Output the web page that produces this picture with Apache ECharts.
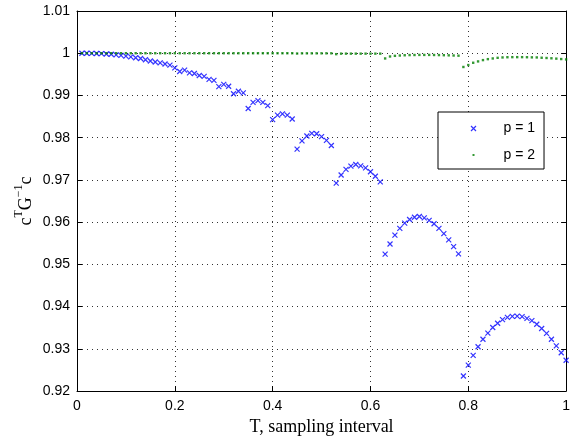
<!DOCTYPE html>
<html>
<head>
<meta charset="utf-8">
<script src="https://cdn.jsdelivr.net/npm/echarts@6/dist/echarts.min.js"></script>
<style>html,body{margin:0;padding:0;background:#fff}#c{width:573px;height:441px}</style>
</head>
<body>
<div id="c"></div>
<script>
var T = [0.01,0.02,0.03,0.04,0.05,0.06,0.07,0.08,0.09,0.10,
0.11,0.12,0.13,0.14,0.15,0.16,0.17,0.18,0.19,0.20,
0.21,0.22,0.23,0.24,0.25,0.26,0.27,0.28,0.29,0.30,
0.31,0.32,0.33,0.34,0.35,0.36,0.37,0.38,0.39,0.40,
0.41,0.42,0.43,0.44,0.45,0.46,0.47,0.48,0.49,0.50,
0.51,0.52,0.53,0.54,0.55,0.56,0.57,0.58,0.59,0.60,
0.61,0.62,0.63,0.64,0.65,0.66,0.67,0.68,0.69,0.70,
0.71,0.72,0.73,0.74,0.75,0.76,0.77,0.78,0.79,0.80,
0.81,0.82,0.83,0.84,0.85,0.86,0.87,0.88,0.89,0.90,
0.91,0.92,0.93,0.94,0.95,0.96,0.97,0.98,0.99,1.00];

var p1 = [1.0000,0.99999,0.99997,0.99994,0.99990,0.99982,0.99975,0.99962,0.99948,0.99932,
0.99914,0.99892,0.99876,0.99845,0.99815,0.99792,0.99772,0.99745,0.99718,0.99652,
0.99566,0.99600,0.99535,0.99520,0.99473,0.99450,0.99380,0.99356,0.99210,0.99263,
0.99217,0.99040,0.99100,0.99062,0.98690,0.98837,0.98877,0.98837,0.98760,0.98426,
0.98535,0.98565,0.98535,0.98442,0.97728,0.97923,0.98040,0.98100,0.98093,0.98023,
0.97937,0.97814,0.96925,0.97116,0.97248,0.97326,0.97365,0.97333,0.97286,0.97193,
0.97086,0.96953,0.95240,0.95481,0.95691,0.95853,0.95977,0.96063,0.96116,0.96133,
0.96100,0.96040,0.95961,0.95853,0.95728,0.95581,0.95419,0.95249,0.92356,0.92612,
0.92844,0.93047,0.93226,0.93372,0.93505,0.93605,0.93690,0.93744,0.93767,0.93774,
0.93760,0.93720,0.93667,0.93581,0.93480,0.93365,0.93226,0.93070,0.92907,0.92728];

var p2 = [1.0000,1.0000,1.0000,1.0000,1.0000,1.0000,1.0000,1.0000,1.0000,1.0000,
1.0000,1.0000,1.0000,1.0000,1.0000,1.0000,1.0000,1.0000,1.0000,1.0000,
1.0000,1.0000,1.0000,1.0000,1.0000,1.0000,1.0000,1.0000,1.0000,1.0000,
1.0000,1.0000,1.0000,1.0000,1.0000,1.0000,1.0000,1.0000,1.0000,1.0000,
1.0000,1.0000,1.0000,1.0000,0.99993,0.99998,0.99998,0.99998,0.99998,0.99998,
0.99998,0.99998,0.99978,0.99990,0.99990,0.99990,0.99990,0.99990,0.99990,0.99990,
0.99990,0.99990,0.99876,0.99923,0.99938,0.99946,0.99952,0.99956,0.99958,0.99960,
0.99960,0.99960,0.99958,0.99956,0.99953,0.99950,0.99946,0.99942,0.99674,0.99720,
0.99774,0.99806,0.99837,0.99860,0.99876,0.99891,0.99900,0.99905,0.99907,0.99907,
0.99907,0.99905,0.99902,0.99900,0.99893,0.99887,0.99880,0.99872,0.99862,0.99853];

var seriesNames = ['p = 1', 'p = 2'];
var xTitle = 'T, sampling interval';

function pairs(xs, ys) { return xs.map(function (x, i) { return [x, ys[i]]; }); }

var crossPath = 'path://M0,0L10,10M10,0L0,10';
var crossIcon = 'path://M0,0M50,14M22.5,4.5L27.5,9.5M27.5,4.5L22.5,9.5';
var dotIcon = 'path://M0,0M50,14M24,6L26,6L26,8L24,8Z';

var gridLine = { show: true, lineStyle: { color: '#333', type: [1, 4], width: 1 } };
var axisLine = { show: true, onZero: false, lineStyle: { color: '#000', width: 1 } };
var tick = { show: true, inside: true, length: 5, lineStyle: { color: '#000' } };
var lbl = { fontFamily: 'Liberation Sans, Arial, sans-serif', fontSize: 14, color: '#000' };

var chart = echarts.init(document.getElementById('c'), null, { renderer: 'canvas' });
chart.setOption({
  animation: false,
  backgroundColor: '#fff',
  grid: { left: 77, right: 3.5, top: 11, bottom: 43, containLabel: false },
  xAxis: [{
    type: 'value', min: 0, max: 1, interval: 0.2, position: 'bottom',
    axisLine: axisLine, axisTick: tick, splitLine: gridLine,
    axisLabel: Object.assign({ margin: 8, formatter: function (v) { return +v.toFixed(2) + ''; } }, lbl),
    name: xTitle, nameLocation: 'middle', nameGap: 27, nameMoveOverlap: false,
    nameTextStyle: { fontFamily: 'Liberation Serif, Times New Roman, serif', fontSize: 18, color: '#000' }
  }, {
    type: 'value', min: 0, max: 1, interval: 0.2, position: 'top',
    axisLine: axisLine, axisTick: tick, splitLine: { show: false }, axisLabel: { show: false }
  }],
  yAxis: [{
    type: 'value', min: 0.92, max: 1.01, interval: 0.01, position: 'left',
    axisLine: axisLine, axisTick: tick, splitLine: gridLine,
    axisLabel: Object.assign({ margin: 7, formatter: function (v) { return +v.toFixed(2) + ''; } }, lbl),
    name: '{n|c}{s|T}{n|G}{s|−1}{n|c}', nameLocation: 'middle', nameRotate: 90, nameGap: 42,
    nameMoveOverlap: false,
    nameTextStyle: {
      color: '#000',
      rich: {
        n: { fontFamily: 'Liberation Serif, Times New Roman, serif', fontSize: 18, color: '#000', verticalAlign: 'bottom', lineHeight: 22 },
        s: { fontFamily: 'Liberation Serif, Times New Roman, serif', fontSize: 12, color: '#000', verticalAlign: 'top', lineHeight: 22 }
      }
    }
  }, {
    type: 'value', min: 0.92, max: 1.01, interval: 0.01, position: 'right',
    axisLine: axisLine, axisTick: tick, splitLine: { show: false }, axisLabel: { show: false }
  }],
  legend: {
    left: 438, top: 112, orient: 'vertical',
    padding: [7, 9, 7, 8],
    itemWidth: 50, itemHeight: 14, itemGap: 10,
    backgroundColor: '#fff', borderColor: '#000', borderWidth: 1, borderRadius: 0,
    textStyle: { fontFamily: 'Liberation Sans, Arial, sans-serif', fontSize: 14, color: '#000' },
    data: [
      { name: seriesNames[0], icon: crossIcon, itemStyle: { color: 'none', borderColor: '#0000ff', borderWidth: 1.2 } },
      { name: seriesNames[1], icon: dotIcon, itemStyle: { color: '#008000', borderWidth: 0 } }
    ]
  },
  series: [{
    name: seriesNames[0], type: 'scatter', data: pairs(T, p1),
    symbol: crossPath, symbolSize: 5,
    itemStyle: { color: 'none', borderColor: '#0000ff', borderWidth: 1.2 },
    z: 3
  }, {
    name: seriesNames[1], type: 'scatter', data: pairs(T, p2),
    symbol: 'rect', symbolSize: 2.4,
    itemStyle: { color: '#008000' },
    z: 4
  }]
});
</script>
</body>
</html>
